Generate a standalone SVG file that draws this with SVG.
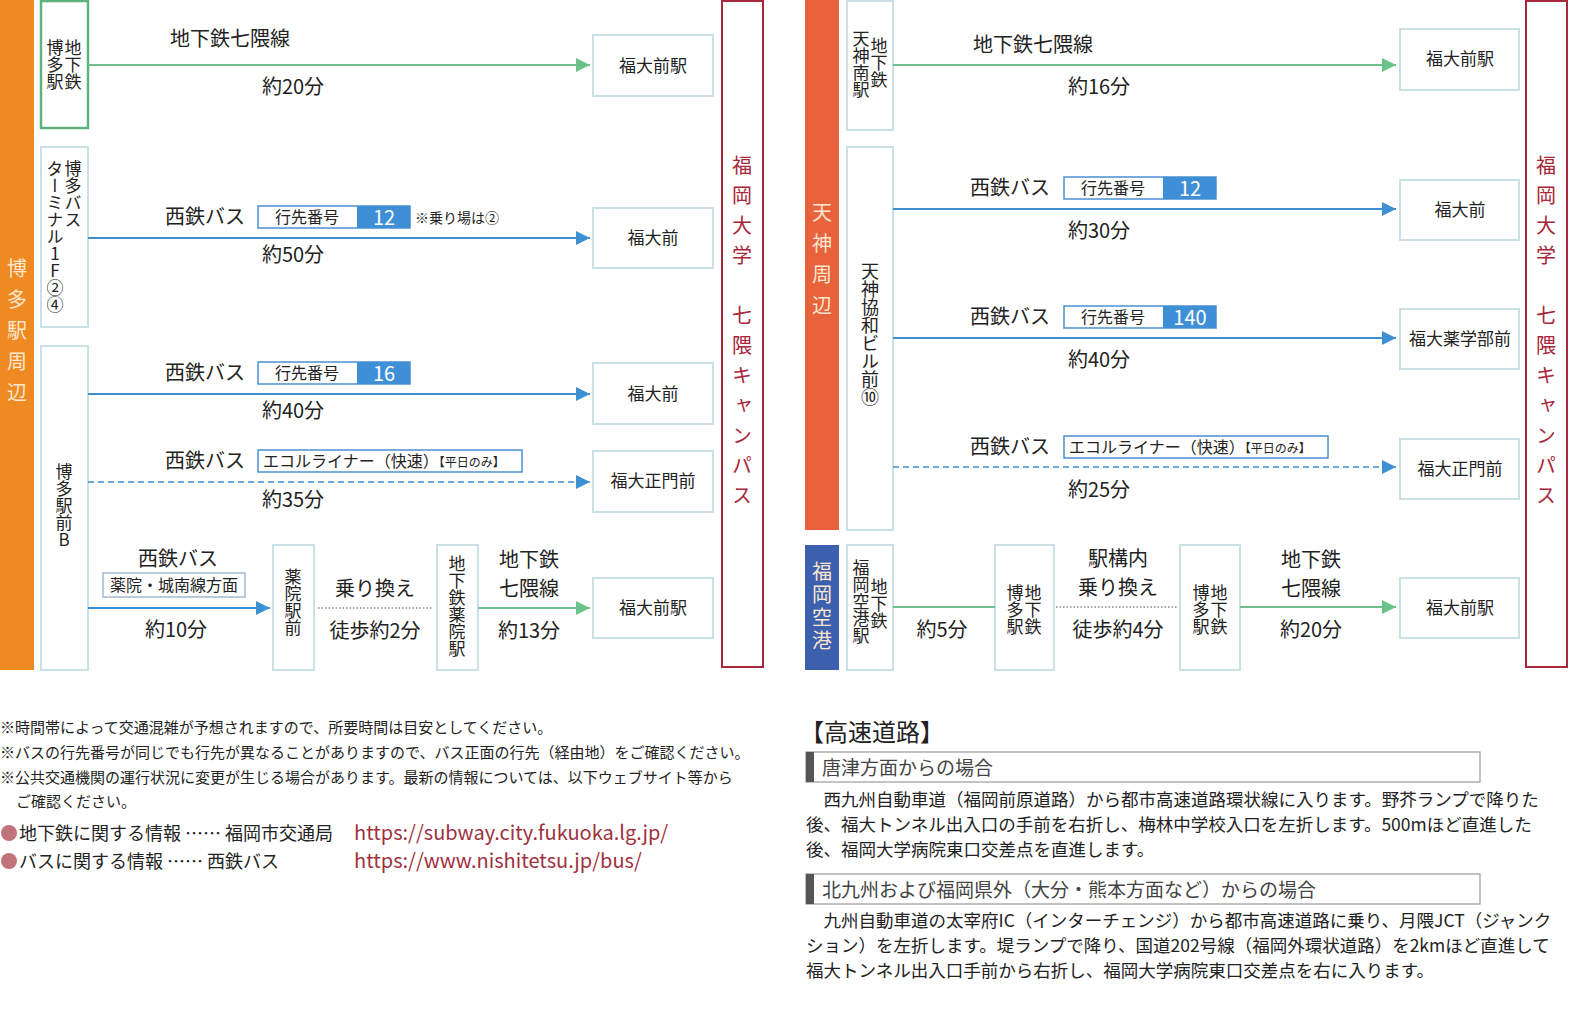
<svg xmlns="http://www.w3.org/2000/svg" width="1576" height="1024" viewBox="0 0 1576 1024">
<style>
text{font-family:"Noto Sans CJK JP","Noto Sans",sans-serif;fill:#222}
.v{writing-mode:vertical-rl;text-orientation:upright;font-size:17px}
.node{fill:#fff;stroke:#c9e1e4;stroke-width:2}
.gnode{fill:#fff;stroke:#5cb47c;stroke-width:2.5}
.dest{fill:#fff;stroke:#c9e1e4;stroke-width:2}
.lbl{font-size:20px;text-anchor:middle}
.dl{font-size:17px;text-anchor:middle}
.g{stroke:#6cc08a;stroke-width:2;fill:none}
.b{stroke:#3c8fd3;stroke-width:2;fill:none}
.bd{stroke:#3c8fd3;stroke-width:1.5;stroke-dasharray:6 4;fill:none}
.dot{stroke:#888;stroke-width:1.5;stroke-dasharray:1.5 2;fill:none}
.tag{fill:#fff;stroke:#4a90d0;stroke-width:1.5}
.num{fill:#3f8fd6}
.area{writing-mode:vertical-rl;text-orientation:upright;font-size:20px;fill:#fde7d0;letter-spacing:11px}
.camp{writing-mode:vertical-rl;text-orientation:upright;font-size:20px;fill:#a8273a;letter-spacing:10px}
.note{font-size:15px}
.para{font-size:17.5px}
</style>
<defs>
<marker id="ag" viewBox="0 0 10 10" refX="10" refY="5" markerWidth="18" markerHeight="14" markerUnits="userSpaceOnUse" orient="auto"><path d="M0,0L10,5L0,10z" fill="#6cc08a"/></marker>
<marker id="ab" viewBox="0 0 10 10" refX="10" refY="5" markerWidth="18" markerHeight="14" markerUnits="userSpaceOnUse" orient="auto"><path d="M0,0L10,5L0,10z" fill="#3c8fd3"/></marker>
</defs>

<!-- LEFT -->
<g id="hakata-area"><rect x="0" y="0" width="34" height="670" fill="#ef8a22"/><text class="area" x="17" y="258">博多駅周辺</text></g>
<g id="n-hakata-subway"><rect class="gnode" x="41" y="1" width="47" height="127"/><text class="v" x="73" y="39">地下鉄</text><text class="v" x="55" y="39">博多駅</text></g>
<g id="n-hakata-bt"><rect class="node" x="41" y="147" width="47" height="180"/><text class="v" x="73" y="160">博多バス</text><text class="v" x="55" y="160">ターミナル1F②④</text></g>
<g id="n-hakata-b"><rect class="node" x="41" y="346" width="47" height="324"/><text class="v" x="64" y="463">博多駅前B</text></g>
<g id="n-yakuin"><rect class="node" x="273" y="545" width="41" height="125"/><text class="v" x="293" y="568">薬院駅前</text></g>
<g id="n-yakuin-sub"><rect class="node" x="437" y="545" width="41" height="125"/><text class="v" x="457" y="555">地下鉄薬院駅</text></g>
<g id="d1"><rect class="dest" x="593" y="35" width="120" height="61"/><text class="dl" x="653" y="72">福大前駅</text></g>
<g id="d2"><rect class="dest" x="593" y="208" width="120" height="60"/><text class="dl" x="653" y="244">福大前</text></g>
<g id="d3"><rect class="dest" x="593" y="363" width="120" height="61"/><text class="dl" x="653" y="400">福大前</text></g>
<g id="d4"><rect class="dest" x="593" y="451" width="120" height="61"/><text class="dl" x="653" y="487">福大正門前</text></g>
<g id="d5"><rect class="dest" x="593" y="578" width="120" height="60"/><text class="dl" x="653" y="614">福大前駅</text></g>
<g id="campus-l"><rect x="722" y="1" width="41" height="666" fill="#fff" stroke="#a8273a" stroke-width="2"/><text class="camp" x="742" y="155">福岡大学　七隈キャンパス</text></g>

<!-- RIGHT -->
<g id="tenjin-area"><rect x="805" y="0" width="34" height="530" fill="#e8623b"/><text class="area" x="822" y="202">天神周辺</text></g>
<g id="airport-area"><rect x="805" y="545" width="34" height="125" fill="#3c5fae"/><text class="area" x="822" y="561" style="letter-spacing:3px">福岡空港</text></g>
<g id="n-tenjin-sub"><rect class="node" x="847" y="1" width="46" height="129"/><text class="v" x="879" y="37">地下鉄</text><text class="v" x="861" y="30">天神南駅</text></g>
<g id="n-tenjin-kyowa"><rect class="node" x="847" y="147" width="46" height="383"/><text class="v" x="870" y="262" style="font-size:18px">天神協和ビル前⑩</text></g>
<g id="n-airport"><rect class="node" x="847" y="545" width="46" height="125"/><text class="v" x="879" y="578">地下鉄</text><text class="v" x="861" y="559">福岡空港駅</text></g>
<g id="n-hakata1"><rect class="node" x="995" y="545" width="59" height="125"/><text class="v" x="1033" y="584">地下鉄</text><text class="v" x="1015" y="584">博多駅</text></g>
<g id="n-hakata2"><rect class="node" x="1180" y="545" width="60" height="125"/><text class="v" x="1219" y="584">地下鉄</text><text class="v" x="1201" y="584">博多駅</text></g>
<g id="rd1"><rect class="dest" x="1400" y="29" width="119" height="61"/><text class="dl" x="1460" y="65">福大前駅</text></g>
<g id="rd2"><rect class="dest" x="1400" y="180" width="119" height="60"/><text class="dl" x="1460" y="216">福大前</text></g>
<g id="rd3"><rect class="dest" x="1400" y="309" width="119" height="60"/><text class="dl" x="1460" y="345">福大薬学部前</text></g>
<g id="rd4"><rect class="dest" x="1400" y="439" width="119" height="60"/><text class="dl" x="1460" y="475">福大正門前</text></g>
<g id="rd5"><rect class="dest" x="1400" y="578" width="119" height="60"/><text class="dl" x="1460" y="614">福大前駅</text></g>
<g id="campus-r"><rect x="1526" y="1" width="41" height="666" fill="#fff" stroke="#a8273a" stroke-width="2"/><text class="camp" x="1546" y="155">福岡大学　七隈キャンパス</text></g>

<g id="connectors">
<path class="g" d="M88,65H590" marker-end="url(#ag)"/>
<path class="b" d="M88,238H590" marker-end="url(#ab)"/>
<path class="b" d="M88,394H590" marker-end="url(#ab)"/>
<path class="bd" d="M88,482H590" marker-end="url(#ab)"/>
<path class="b" d="M88,608H270" marker-end="url(#ab)"/>
<path class="dot" d="M318,608H432"/>
<path class="g" d="M478,608H590" marker-end="url(#ag)"/>
<path class="g" d="M893,65H1396" marker-end="url(#ag)"/>
<path class="b" d="M893,209H1396" marker-end="url(#ab)"/>
<path class="b" d="M893,338H1396" marker-end="url(#ab)"/>
<path class="bd" d="M893,467H1396" marker-end="url(#ab)"/>
<path class="g" d="M893,607H995"/>
<path class="dot" d="M1056,607H1178"/>
<path class="g" d="M1240,607H1396" marker-end="url(#ag)"/>
</g>

<g id="labels">
<text class="lbl" x="230" y="46">地下鉄七隈線</text><text class="lbl" x="293" y="94">約20分</text>
<text class="lbl" x="205" y="224">西鉄バス</text>
<rect class="tag" x="258" y="206" width="152" height="22"/><rect class="num" x="357" y="206" width="53" height="22"/>
<text x="307" y="223" style="font-size:16px;text-anchor:middle">行先番号</text><text x="384" y="225" style="font-size:20px;fill:#fff;text-anchor:middle">12</text>
<text x="415" y="223" style="font-size:14px">※乗り場は②</text>
<text class="lbl" x="293" y="262">約50分</text>
<text class="lbl" x="205" y="380">西鉄バス</text>
<rect class="tag" x="258" y="362" width="152" height="22"/><rect class="num" x="357" y="362" width="53" height="22"/>
<text x="307" y="379" style="font-size:16px;text-anchor:middle">行先番号</text><text x="384" y="381" style="font-size:20px;fill:#fff;text-anchor:middle">16</text>
<text class="lbl" x="293" y="418">約40分</text>
<text class="lbl" x="205" y="468">西鉄バス</text>
<rect class="tag" x="258" y="450" width="264" height="22"/>
<text x="263" y="467" style="font-size:16px">エコルライナー（快速）<tspan style="font-size:12px">【平日のみ】</tspan></text>
<text class="lbl" x="293" y="507">約35分</text>
<text class="lbl" x="178" y="566">西鉄バス</text>
<rect x="103" y="573" width="142" height="24" fill="#fff" stroke="#8aa8c0" stroke-width="1.2"/>
<text x="174" y="591" style="font-size:16px;text-anchor:middle">薬院・城南線方面</text>
<text class="lbl" x="176" y="637">約10分</text>
<text class="lbl" x="375" y="596">乗り換え</text><text class="lbl" x="375" y="638">徒歩約2分</text>
<text class="lbl" x="529" y="567">地下鉄</text><text class="lbl" x="529" y="596">七隈線</text><text class="lbl" x="529" y="638">約13分</text>

<text class="lbl" x="1033" y="52">地下鉄七隈線</text><text class="lbl" x="1099" y="94">約16分</text>
<text class="lbl" x="1010" y="195">西鉄バス</text>
<rect class="tag" x="1064" y="177" width="152" height="22"/><rect class="num" x="1163" y="177" width="53" height="22"/>
<text x="1113" y="194" style="font-size:16px;text-anchor:middle">行先番号</text><text x="1190" y="196" style="font-size:20px;fill:#fff;text-anchor:middle">12</text>
<text class="lbl" x="1099" y="238">約30分</text>
<text class="lbl" x="1010" y="324">西鉄バス</text>
<rect class="tag" x="1064" y="306" width="152" height="22"/><rect class="num" x="1163" y="306" width="53" height="22"/>
<text x="1113" y="323" style="font-size:16px;text-anchor:middle">行先番号</text><text x="1190" y="325" style="font-size:20px;fill:#fff;text-anchor:middle">140</text>
<text class="lbl" x="1099" y="367">約40分</text>
<text class="lbl" x="1010" y="454">西鉄バス</text>
<rect class="tag" x="1064" y="436" width="264" height="22"/>
<text x="1069" y="453" style="font-size:16px">エコルライナー（快速）<tspan style="font-size:12px">【平日のみ】</tspan></text>
<text class="lbl" x="1099" y="497">約25分</text>
<text class="lbl" x="942" y="637">約5分</text>
<text class="lbl" x="1118" y="566">駅構内</text><text class="lbl" x="1118" y="595">乗り換え</text><text class="lbl" x="1118" y="637">徒歩約4分</text>
<text class="lbl" x="1311" y="567">地下鉄</text><text class="lbl" x="1311" y="596">七隈線</text><text class="lbl" x="1311" y="637">約20分</text>
</g>

<g id="notes">
<text class="note" x="0" y="733">※時間帯によって交通混雑が予想されますので、所要時間は目安としてください。</text>
<text class="note" x="0" y="758">※バスの行先番号が同じでも行先が異なることがありますので、バス正面の行先（経由地）をご確認ください。</text>
<text class="note" x="0" y="783">※公共交通機関の運行状況に変更が生じる場合があります。最新の情報については、以下ウェブサイト等から</text>
<text class="note" x="16" y="807">ご確認ください。</text>
<circle cx="9" cy="833" r="8" fill="#c0737a"/><circle cx="9" cy="861" r="8" fill="#c0737a"/>
<text x="19" y="840" style="font-size:18px">地下鉄に関する情報 …… 福岡市交通局</text>
<text x="19" y="868" style="font-size:18px">バスに関する情報 …… 西鉄バス</text>
<text x="354" y="840" style="font-size:20px;fill:#a0303d">https://subway.city.fukuoka.lg.jp/</text>
<text x="354" y="868" style="font-size:20px;fill:#a0303d">https://www.nishitetsu.jp/bus/</text>
</g>
<g id="highway">
<text x="800" y="741" style="font-size:24px">【高速道路】</text>
<rect x="806" y="752" width="674" height="30" fill="#fff" stroke="#999" stroke-width="1.2"/><rect x="806" y="752" width="8" height="30" fill="#555"/>
<text x="822" y="775" style="font-size:19px;fill:#444">唐津方面からの場合</text>
<text class="para" x="806" y="806">　西九州自動車道（福岡前原道路）から都市高速道路環状線に入ります。野芥ランプで降りた</text>
<text class="para" x="806" y="831">後、福大トンネル出入口の手前を右折し、梅林中学校入口を左折します。500mほど直進した</text>
<text class="para" x="806" y="856">後、福岡大学病院東口交差点を直進します。</text>
<rect x="806" y="874" width="674" height="30" fill="#fff" stroke="#999" stroke-width="1.2"/><rect x="806" y="874" width="8" height="30" fill="#555"/>
<text x="822" y="897" style="font-size:19px;fill:#444">北九州および福岡県外（大分・熊本方面など）からの場合</text>
<text class="para" x="806" y="927">　九州自動車道の太宰府IC（インターチェンジ）から都市高速道路に乗り、月隈JCT（ジャンク</text>
<text class="para" x="806" y="952">ション）を左折します。堤ランプで降り、国道202号線（福岡外環状道路）を2kmほど直進して</text>
<text class="para" x="806" y="977">福大トンネル出入口手前から右折し、福岡大学病院東口交差点を右に入ります。</text>
</g>
</svg>
